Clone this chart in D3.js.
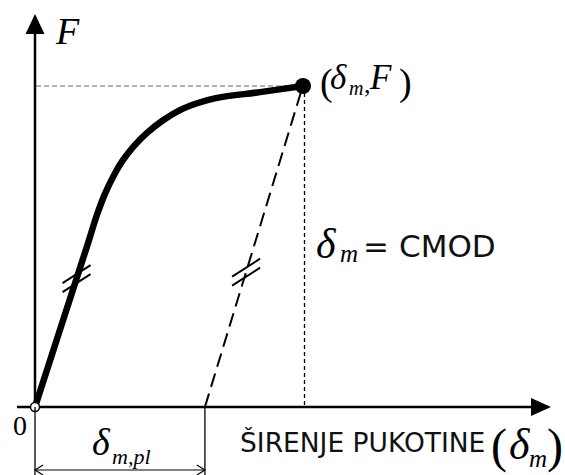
<!DOCTYPE html>
<html lang="en">
<head>
<meta charset="utf-8">
<title>F - CMOD</title>
<script src="https://cdnjs.cloudflare.com/ajax/libs/d3/7.8.5/d3.min.js"></script>
<style>
  body { margin: 0; background: #fff; }
  .serif { font-family: "Liberation Serif", "Times New Roman", serif; fill: #000; }
  .it { font-style: italic; }
  .sans { font-family: "DejaVu Sans", Verdana, sans-serif; fill: #111; }
</style>
</head>
<body>
<svg id="chart" width="565" height="475"></svg>
<script>
// values (normalised: peak = 1)
var deltaValues = [0, 0.157, 0.198, 0.231, 0.261, 0.295, 0.328, 0.369, 0.418, 0.474, 0.541, 0.608, 0.679, 0.840, 1];
var forceValues = [0, 0.405, 0.511, 0.598, 0.664, 0.723, 0.769, 0.813, 0.854, 0.891, 0.925, 0.947, 0.963, 0.981, 1];
var deltaPlastic = 0.634;
var hatchForce = [0.40, 0.42];

var svg = d3.select("#chart");

var x = d3.scaleLinear().domain([0, 1]).range([35, 303]);
var y = d3.scaleLinear().domain([0, 1]).range([407, 86]);

var curveData = deltaValues.map(function(d, i) { return [d, forceValues[i]]; });

// guide lines
svg.append("line")
    .attr("x1", x(0) + 1).attr("x2", x(1))
    .attr("y1", y(1)).attr("y2", y(1))
    .style("stroke", "#999").style("stroke-width", 1.6)
    .style("stroke-dasharray", "5,3");

svg.append("line")
    .attr("x1", x(1) + 1.5).attr("x2", x(1) + 1.5)
    .attr("y1", y(1)).attr("y2", y(0))
    .style("stroke", "#000").style("stroke-width", 1.3)
    .style("stroke-dasharray", "4,3");

// axes
svg.append("line")
    .attr("x1", 17).attr("x2", 540)
    .attr("y1", y(0)).attr("y2", y(0))
    .style("stroke", "#000").style("stroke-width", 2.5);
svg.append("path")
    .attr("d", "M551," + y(0) + "L531," + (y(0) - 9) + "L531," + (y(0) + 9) + "Z")
    .style("fill", "#000");

svg.append("line")
    .attr("x1", x(0)).attr("x2", x(0))
    .attr("y1", y(0)).attr("y2", 25)
    .style("stroke", "#000").style("stroke-width", 2.5);
svg.append("path")
    .attr("d", "M" + x(0) + ",14L" + (x(0) - 9.5) + ",34L" + (x(0) + 9.5) + ",34Z")
    .style("fill", "#000");

// unloading line
svg.append("line")
    .attr("x1", x(deltaPlastic)).attr("y1", y(0))
    .attr("x2", x(1) - 2).attr("y2", y(1) + 6)
    .style("stroke", "#000").style("stroke-width", 2)
    .style("stroke-dasharray", "14,7");

// loading curve
var line = d3.line()
    .x(function(d) { return x(d[0]); })
    .y(function(d) { return y(d[1]); })
    .curve(d3.curveCatmullRom.alpha(0.5));

svg.append("path")
    .datum(curveData)
    .attr("d", line)
    .style("fill", "none")
    .style("stroke", "#000")
    .style("stroke-width", 6.5)
    .style("stroke-linecap", "round");

// hatch marks (equal slopes)
function hatch(x0, x1, f1, f) {
    var cx = x(x0 + (x1 - x0) * f / f1), cy = y(f);
    [-4.5, 4.5].forEach(function(o) {
        svg.append("line")
            .attr("x1", cx - 14).attr("y1", cy + o + 9)
            .attr("x2", cx + 14).attr("y2", cy + o - 9)
            .style("stroke", "#000").style("stroke-width", 2);
    });
}
hatch(0, deltaValues[1], forceValues[1], hatchForce[0]);
hatch(deltaPlastic, 1, 1, hatchForce[1]);

// points
svg.append("circle")
    .attr("cx", x(1)).attr("cy", y(1)).attr("r", 8)
    .style("fill", "#000");
svg.append("circle")
    .attr("cx", x(0)).attr("cy", y(0)).attr("r", 4.5)
    .style("fill", "#fff").style("stroke", "#000").style("stroke-width", 1.5);

// dimension for plastic part
[x(0), x(deltaPlastic)].forEach(function(px) {
    svg.append("line")
        .attr("x1", px).attr("x2", px)
        .attr("y1", y(0)).attr("y2", 475)
        .style("stroke", "#000").style("stroke-width", 1.3);
});
svg.append("line")
    .attr("x1", x(0)).attr("x2", x(deltaPlastic))
    .attr("y1", 470).attr("y2", 470)
    .style("stroke", "#000").style("stroke-width", 1.2);
svg.append("path")
    .attr("d", "M" + (x(0) + 8) + ",465L" + x(0) + ",470L" + (x(0) + 8) + ",475" +
               "M" + (x(deltaPlastic) - 8) + ",465L" + x(deltaPlastic) + ",470L" + (x(deltaPlastic) - 8) + ",475")
    .style("fill", "none").style("stroke", "#000").style("stroke-width", 1.2);

// labels
function txt(cls, px, py, size, s) {
    return svg.append("text").attr("class", cls)
        .attr("x", px).attr("y", py)
        .style("font-size", size + "px").text(s);
}

txt("serif it", 56, 44, 38, "F");
txt("serif", 13, 435, 28, "0");

txt("serif", 320, 95, 38, "(");
txt("serif it", 330, 89, 35, "\u03b4");
txt("serif it", 349, 95, 20, "m");
txt("serif", 364, 93, 26, ",");
txt("serif it", 370, 89, 35, "F");
txt("serif", 399, 95, 38, ")");

txt("serif it", 316, 258, 42, "\u03b4");
txt("serif it", 340, 262, 25, "m");
txt("sans", 363, 257, 31, "=");
txt("sans", 399, 257, 31, "CMOD");

txt("serif it", 92, 455, 38, "\u03b4");
txt("serif it", 112, 464, 22, "m,pl");

txt("sans", 240, 452, 26.5, "\u0160IRENJE PUKOTINE");
txt("serif", 491, 462, 48, "(");
txt("serif it", 509, 459, 44, "\u03b4");
txt("serif it", 529, 467, 25, "m");
txt("serif", 547, 462, 48, ")");
</script>
</body>
</html>
